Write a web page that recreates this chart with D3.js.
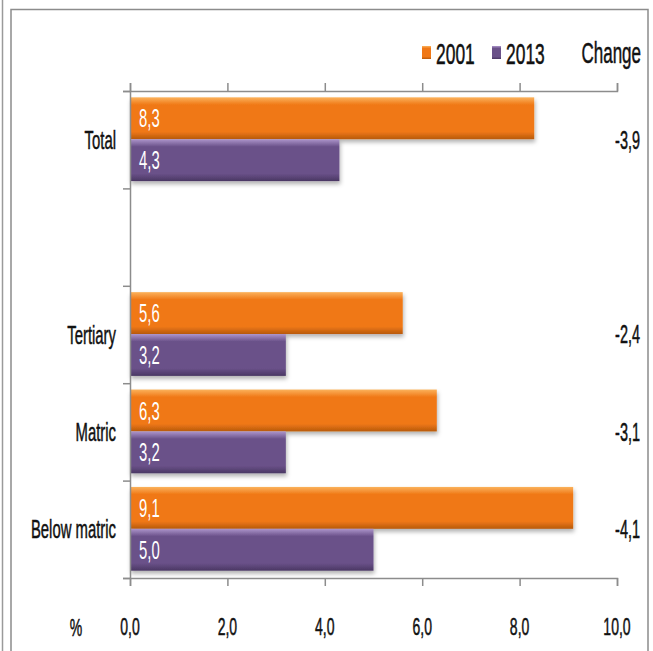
<!DOCTYPE html>
<html>
<head>
    <meta charset="utf-8">
    <title>Change 2001-2013</title>
    <style>
        body { margin: 0; background: #fff; }
        text { font-family: "Liberation Sans", Arial, sans-serif; stroke-width: 0.35px; }
    </style>
</head>
<body>
    <script src="https://cdnjs.cloudflare.com/ajax/libs/d3/7.9.0/d3.min.js"></script>
    <script>

        const categories = ["Total", "", "Tertiary", "Matric", "Below matric"];
        const values2001 = [8.3, null, 5.6, 6.3, 9.1];
        const values2013 = [4.3, null, 3.2, 3.2, 5.0];
        const changes = [-3.9, null, -2.4, -3.1, -4.1];
        const xTicks = [0, 2, 4, 6, 8, 10];
        const series = ["2001", "2013"];

        const width = 653;
        const height = 651;
        const margin = {top: 91, right: 36, bottom: 73, left: 130};
        // text in the original is tall and narrow
        const sx = 0.85, sy = 1.48;

        const svg = d3.select("body")
            .append("svg")
            .attr("width", width)
            .attr("height", height);

        // gradients and shadow for the bevelled bars
        const defs = svg.append("defs");
        const grads = [
            {id: "g2001", light: "#fbb25c", main: "#f07816", dark: "#b85a0c"},
            {id: "g2013", light: "#ad95cb", main: "#6a5189", dark: "#4a3763"}
        ];
        grads.forEach(g => {
            const lg = defs.append("linearGradient")
                .attr("id", g.id)
                .attr("x1", 0).attr("y1", 0).attr("x2", 0).attr("y2", 1);
            lg.append("stop").attr("offset", "0%").attr("stop-color", g.light);
            lg.append("stop").attr("offset", "18%").attr("stop-color", g.main);
            lg.append("stop").attr("offset", "82%").attr("stop-color", g.main);
            lg.append("stop").attr("offset", "100%").attr("stop-color", g.dark);
        });
        defs.append("filter")
            .attr("id", "shadow")
            .attr("x", "-5%").attr("y", "-20%").attr("width", "115%").attr("height", "160%")
            .append("feDropShadow")
            .attr("dx", 1).attr("dy", 3).attr("stdDeviation", 2)
            .attr("flood-color", "#000").attr("flood-opacity", 0.3);

        // frame lines
        svg.append("line").attr("x1", 2.5).attr("x2", 2.5).attr("y1", 0).attr("y2", height)
            .attr("stroke", "#9a9a9a").attr("stroke-width", 1.5);
        svg.append("path")
            .attr("d", `M11,${height}V9.5H648V${height}`)
            .attr("fill", "none").attr("stroke", "#8c8c8c").attr("stroke-width", 1.5);

        function label(sel, x, y, txt, size, anchor, fill) {
            const t = sel.append("text")
                .attr("transform", `translate(${x},${y}) scale(${sx},${sy})`)
                .attr("text-anchor", anchor)
                .attr("dy", "0.35em")
                .attr("font-size", size)
                .attr("fill", fill || "#111")
                .text(txt);
            if (!fill) t.attr("stroke", "#111");   // thicken dark text a little
            return t;
        }

        const fmt = v => v.toFixed(1).replace(".", ",");

        const x = d3.scaleLinear()
            .domain([0, 10])
            .range([margin.left, width - margin.right]);

        const yEdge = d3.scaleLinear()
            .domain([0, categories.length])
            .range([margin.top, height - margin.bottom]);

        const y = d3.scaleBand()
            .domain(d3.range(categories.length))
            .range([margin.top, height - margin.bottom]);

        const band = y.bandwidth();
        const barH = band * 0.43;
        const barTop = band * 0.065;

        // bars
        const rows = svg.append("g")
            .selectAll("g")
            .data(d3.range(categories.length).filter(i => values2001[i] != null))
            .join("g");

        rows.append("rect")
            .attr("x", x(0))
            .attr("y", i => y(i) + barTop)
            .attr("width", i => x(values2001[i]) - x(0))
            .attr("height", barH)
            .attr("fill", "url(#g2001)")
            .attr("filter", "url(#shadow)");

        rows.append("rect")
            .attr("x", x(0))
            .attr("y", i => y(i) + barTop + barH)
            .attr("width", i => x(values2013[i]) - x(0))
            .attr("height", barH)
            .attr("fill", "url(#g2013)")
            .attr("filter", "url(#shadow)");

        rows.each(function(i) {
            const r = d3.select(this);
            label(r, x(0) + 9, y(i) + barTop + barH / 2, fmt(values2001[i]), 17.5, "start", "#fff");
            label(r, x(0) + 9, y(i) + barTop + barH * 1.5, fmt(values2013[i]), 17.5, "start", "#fff");
            label(r, width - 13, y(i) + band / 2, fmt(changes[i]), 17, "end");
        });

        // axes
        const axisStyle = g => {
            g.select(".domain").attr("stroke", "#8c8c8c").attr("stroke-width", 1.5);
            g.selectAll(".tick line").attr("stroke", "#8c8c8c").attr("stroke-width", 1.5);
            g.selectAll("text").remove();
        };

        svg.append("g")
            .attr("transform", `translate(0,${height - margin.bottom})`)
            .call(d3.axisBottom(x).tickValues(xTicks).tickSize(8).tickSizeOuter(8))
            .call(axisStyle);

        svg.append("g")
            .attr("transform", `translate(0,${margin.top})`)
            .call(d3.axisTop(x).tickValues(xTicks).tickSize(8).tickSizeOuter(8))
            .call(axisStyle);

        svg.append("g")
            .attr("transform", `translate(${margin.left},0)`)
            .call(d3.axisLeft(yEdge).tickValues(d3.range(categories.length + 1)).tickSize(7).tickSizeOuter(7))
            .call(axisStyle);

        // category labels
        categories.forEach((c, i) => {
            if (c) label(svg, margin.left - 14, y(i) + band / 2, c, 17.5, "end");
        });

        // x tick labels
        xTicks.forEach(t => label(svg, x(t), 626, fmt(t), 16.5, "middle"));
        label(svg, 76, 627, "%", 16.5, "middle");

        // legend
        const legend = svg.append("g");
        const legX = [422, 492];
        series.forEach((s, i) => {
            legend.append("rect")
                .attr("x", legX[i]).attr("y", 46)
                .attr("width", 9).attr("height", 13)
                .attr("fill", `url(#${grads[i].id})`);
            label(legend, legX[i] + 14, 53, s, 20.5, "start");
        });
        label(legend, width - 12, 53, "Change", 20, "end");

    </script>
</body>
</html>
